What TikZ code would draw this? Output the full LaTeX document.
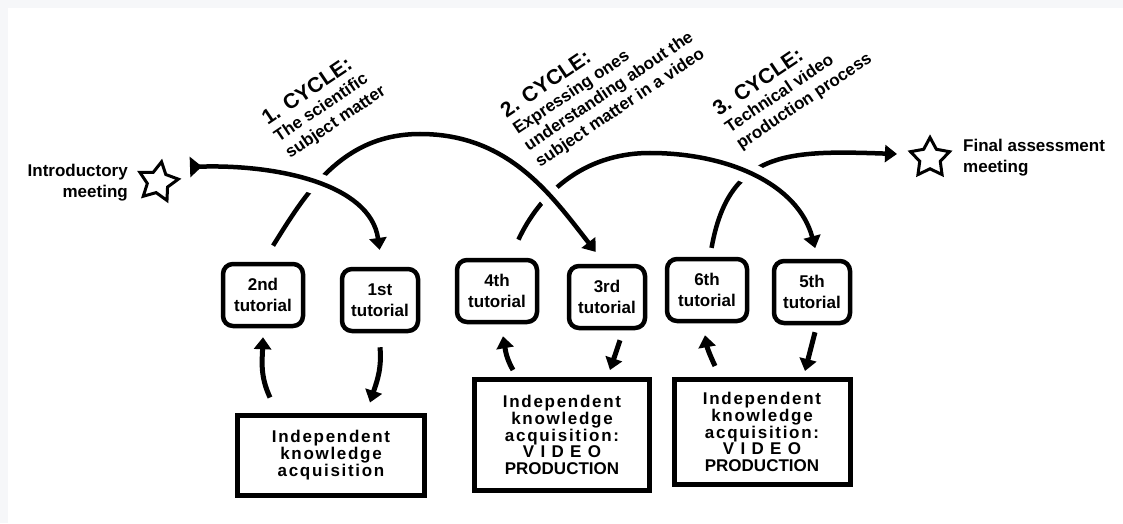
\documentclass[tikz,border=0pt]{standalone}
\usepackage{fontspec}
\setmainfont{Liberation Sans}
\newfontfamily\trackfont[LetterSpace=10]{Liberation Sans}
\newfontfamily\widetrackfont[LetterSpace=37]{Liberation Sans}
\usetikzlibrary{arrows.meta,shapes.geometric,positioning}
\definecolor{pagegray}{RGB}{246,247,249}
\pgfdeclarelayer{bg}
\pgfdeclarelayer{arcs}
\pgfsetlayers{bg,arcs,main}
\tikzset{
  tutorial/.style={draw, line width=4.5pt, rounded corners=10pt, align=center,
    minimum width=80pt, minimum height=62pt, inner sep=2pt,
    font=\bfseries\fontsize{17}{21}\selectfont},
  studybox/.style={draw, line width=5pt, align=center, inner sep=2pt,
    font={\trackfont\bfseries\fontsize{17}{16.7}\selectfont}},
  milestone/.style={draw, line width=3pt, star, star points=5,
    star point ratio=1.9, minimum size=41pt, inner sep=0pt},
  cyclelabel/.style={align=left, rotate=34, anchor=base west, inner sep=0pt,
    font=\bfseries\fontsize{17}{20}\selectfont},
  flow/.style={line width=4.5pt, -{Triangle[length=12pt,width=17pt]}},
  halo/.style={preaction={draw=white, line width=22pt, -}},
}
\begin{document}
\begin{tikzpicture}[x=1pt,y=1pt]
  \useasboundingbox (0,0) rectangle (1123,523);
  \begin{pgfonlayer}{bg}
    \fill[pagegray] (0,0) rectangle (1123,523);
    \fill[white] (8,0) rectangle (1123,515);
  \end{pgfonlayer}

  % meetings
  \node[milestone, rotate=-10] (intro) at (158,341) {};
  \node[milestone] (final) at (930,365) {};
  \node[anchor=east, align=right, inner sep=0pt,
    font=\bfseries\fontsize{17}{21}\selectfont] (introtext) at (128,340) {Introductory\\meeting};
  \node[anchor=west, align=left, inner sep=0pt,
    font=\bfseries\fontsize{17}{21}\selectfont] (finaltext) at (963,365) {Final assessment\\meeting};

  % tutorials
  \node[tutorial] (t2) at (263,228) {2nd\\tutorial};
  \node[tutorial, minimum width=76pt] (t1) at (380,223) {1st\\tutorial};
  \node[tutorial] (t4) at (497,232) {4th\\tutorial};
  \node[tutorial, minimum width=76pt] (t3) at (607,226) {3rd\\tutorial};
  \node[tutorial] (t6) at (707,233) {6th\\tutorial};
  \node[tutorial, minimum width=76pt] (t5) at (812,231) {5th\\tutorial};

  % independent work
  \node[studybox, minimum width=187pt, minimum height=80pt] (study1) at (331,68)
    {Independent\\knowledge\\acquisition};
  \node[studybox, minimum width=175pt, minimum height=111pt] (study2) at (562,88)
    {Independent\\knowledge\\acquisition:\\{\widetrackfont\bfseries VIDEO}\\{\normalfont\bfseries PRODUCTION}};
  \node[studybox, minimum width=176pt, minimum height=105pt] (study3) at (762,91)
    {Independent\\knowledge\\acquisition:\\{\widetrackfont\bfseries VIDEO}\\{\normalfont\bfseries PRODUCTION}};

  % cycle labels (anchored at the last line)
  \node[cyclelabel] (cycle1) at (290,364)
    {{\fontsize{21}{20}\selectfont 1. CYCLE:}\\The scientific\\subject matter};
  \node[cyclelabel] (cycle2) at (540,355)
    {{\fontsize{21}{20}\selectfont 2. CYCLE:}\\Expressing ones\\understanding about the\\subject matter in a video};
  \node[cyclelabel] (cycle3) at (741,373)
    {{\fontsize{21}{20}\selectfont 3. CYCLE:}\\Technical video\\production process};

  % big arcs, lower ones first
  \begin{pgfonlayer}{arcs}
    \coordinate (a1s) at (190,356);
    \coordinate (top2) at (420,389);
    \coordinate (top3) at (650,370);
    \coordinate (a4e) at (897,369);
    \draw[flow, shorten <=9pt] ([xshift=3pt]t6.north) to[out=80,in=178,looseness=1.3] (a4e);
    \draw[flow, halo, shorten <=20pt, shorten >=11pt] ([xshift=13pt]t4.north)
      to[out=65,in=180] (top3) to[out=0,in=105] ([xshift=6pt]t5.north);
    \draw[flow, halo, shorten <=19pt, shorten >=15pt] (t2.north)
      to[out=58,in=180] (top2) to[out=0,in=128] ([xshift=-2pt]t3.north);
    \draw[flow, halo, {Triangle[reversed,length=12pt,width=20pt]}-{Triangle[length=12pt,width=17pt]},
      shorten >=17pt] (a1s) to[out=2,in=98] ([xshift=2pt]t1.north);
  \end{pgfonlayer}

  % small loops
  \draw[flow, line width=5pt] ([xshift=-61pt,yshift=15pt]study1.north) to[out=115,in=-92] ([yshift=-9pt]t2.south);
  \draw[flow, line width=5pt] ([yshift=-14pt]t1.south) to[out=-85,in=72] ([xshift=39pt,yshift=10pt]study1.north);
  \draw[flow, line width=5pt] ([xshift=-49pt,yshift=7pt]study2.north) to[out=120,in=-80] ([xshift=6pt,yshift=-12pt]t4.south);
  \draw[flow, line width=5pt] ([xshift=13pt,yshift=-10pt]t3.south) to ([xshift=48pt,yshift=7pt]study2.north);
  \draw[flow, line width=5pt] ([xshift=-47pt,yshift=11pt]study3.north) to[out=115,in=-80] ([xshift=-2pt,yshift=-12pt]t6.south);
  \draw[flow, line width=5pt] ([xshift=3pt,yshift=-7pt]t5.south) to ([xshift=43pt,yshift=6pt]study3.north);
\end{tikzpicture}
\end{document}
